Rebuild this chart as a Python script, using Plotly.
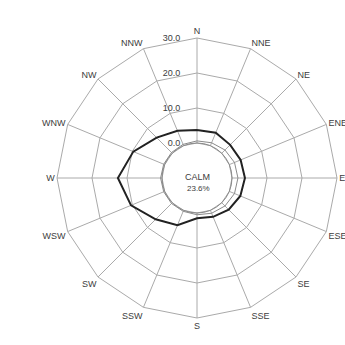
import plotly.graph_objects as go

# Compass sectors (clockwise from north)
directions = ["N", "NNE", "NE", "ENE", "E", "ESE", "SE", "SSE",
              "S", "SSW", "SW", "WSW", "W", "WNW", "NW", "NNW"]

# Wind frequency per sector (%)
freq_all = [3.7, 4.0, 3.4, 3.5, 3.7, 3.4, 2.8, 2.0,
            1.5, 4.6, 6.7, 10.4, 12.6, 9.7, 6.3, 4.6]
freq_strong = [0.6, 0.9, 1.3, 1.6, 1.7, 1.6, 1.3, 0.9,
               0.5, 0.3, 0.3, 0.3, 0.4, 0.3, 0.3, 0.4]

radial_ticks = [0, 10, 20, 30]
radial_labels = ["0.0", "10.0", "20.0", "30.0"]
calm_text = ["CALM", "23.6%"]

W = H = 345
cx, cy, R = 197, 178, 140  # polar centre and outer radius in pixels
hole = 0.25
txt = "#3c3c3c"

def closed(v):
    return list(v) + [v[0]]

fig = go.Figure()
fig.add_trace(go.Scatterpolar(
    r=closed(freq_strong), theta=closed(directions), mode="lines",
    line=dict(color="#8a8a8a", width=1), showlegend=False))
fig.add_trace(go.Scatterpolar(
    r=closed(freq_all), theta=closed(directions), mode="lines",
    line=dict(color="#222222", width=2), showlegend=False))

grid = "#aaaaaa"
fig.update_layout(
    width=W, height=H,
    margin=dict(l=0, r=0, t=0, b=0),
    paper_bgcolor="white",
    font=dict(family="Liberation Sans", size=9, color=txt),
    polar=dict(
        domain=dict(x=[(cx - R) / W, (cx + R) / W],
                    y=[(H - cy - R) / H, (H - cy + R) / H]),
        bgcolor="white",
        hole=hole,
        gridshape="linear",
        angularaxis=dict(
            type="category", categoryarray=directions,
            direction="clockwise", rotation=90,
            showline=True, linecolor=grid, linewidth=1,
            gridcolor=grid, gridwidth=1, ticks="",
            tickfont=dict(size=9, color=txt)),
        radialaxis=dict(
            range=[0, 30], tickvals=radial_ticks, ticktext=radial_labels,
            angle=90, tickangle=90, side="counterclockwise",
            showline=False, ticks="outside", ticklen=13,
            tickcolor="rgba(0,0,0,0)", gridcolor=grid, gridwidth=1,
            tickfont=dict(size=9, color=txt)),
    ),
)

# Calm circle around the hole
rh = R * hole
fig.add_shape(type="circle", xref="paper", yref="paper",
              x0=(cx - rh) / W, x1=(cx + rh) / W,
              y0=(H - cy - rh) / H, y1=(H - cy + rh) / H,
              line=dict(color="#8a8a8a", width=1))

fig.add_annotation(x=cx / W, y=(H - cy + 1) / H, xref="paper", yref="paper",
                   text=calm_text[0], showarrow=False,
                   font=dict(size=9, color=txt))
fig.add_annotation(x=(cx + 1) / W, y=(H - cy - 10) / H, xref="paper", yref="paper",
                   text=calm_text[1], showarrow=False,
                   font=dict(size=8, color=txt))

fig.write_html("out.html")
